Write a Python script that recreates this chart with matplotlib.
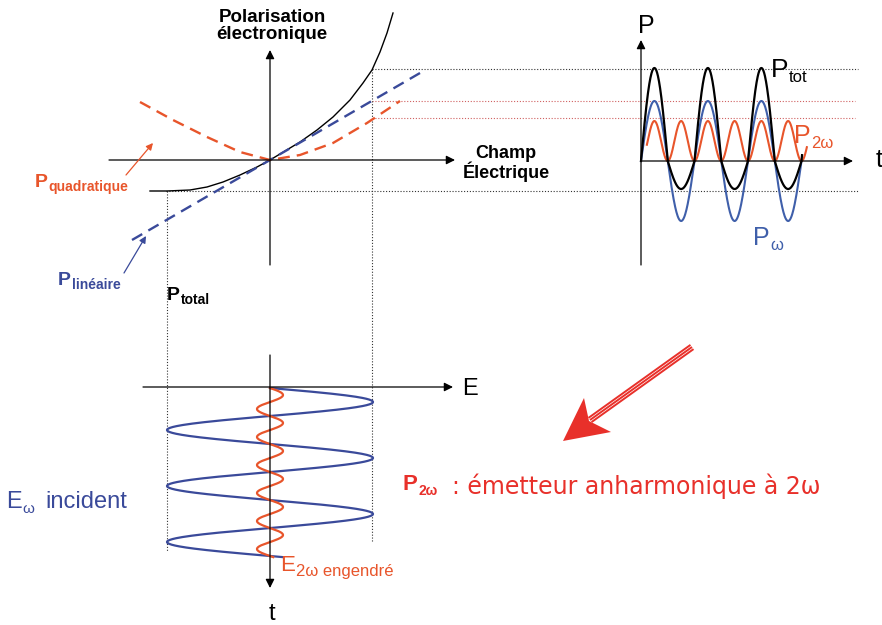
import numpy as np
import matplotlib.pyplot as plt
import matplotlib.transforms as mtransforms
from matplotlib.patches import Polygon

plt.rcParams['font.family'] = ['Liberation Sans', 'DejaVu Sans']

# left diagram: polarisation P vs field E
e_total = [-1.20, -1.03, -0.80, -0.63, -0.47, -0.30, -0.13, 0.00, 0.15, 0.30,
           0.47, 0.63, 0.80, 0.93, 1.02, 1.10, 1.17, 1.23]
p_total = [-0.31, -0.31, -0.30, -0.27, -0.22, -0.15, -0.07, 0.00, 0.09, 0.18,
           0.30, 0.43, 0.60, 0.77, 0.90, 1.08, 1.27, 1.47]
e_quad = [-1.30, -0.97, -0.63, -0.30, 0.00, 0.30, 0.63, 0.97, 1.30]
p_quad = [0.58, 0.40, 0.23, 0.08, 0.00, 0.05, 0.17, 0.37, 0.59]
e_lin = [-1.38, 1.50]
p_lin = [-0.80, 0.87]

# field swing and P levels it reaches (dotted guides)
e_swing = [-1.03, 1.02]
lev_black = [0.91, -0.31]
lev_red = [0.59, 0.42]

# right diagram: P(t), t in periods
amp_w = 0.60
amp_2w = 0.40
amp_tot = [0.93, 0.28]   # height of the upper lobes, depth of the lower lobes
t_w = [0.0, 3.0]
t_2w = [0.11, 3.10]
t_tot = [0.0, 3.01]

# bottom diagram: incident / generated field, t in periods
amp_ew = 1.03
amp_e2w = 0.13
t_field = [0.0, 3.02]

red = '#E8552B'
blue = '#3A4A9A'
blue2 = '#3F5FAA'
red_txt = '#E8302A'

fig = plt.figure(figsize=(8.82, 6.25), dpi=100)
ax = fig.add_axes([0, 0, 1, 1])
ax.set_xlim(0, 882)
ax.set_ylim(625, 0)
ax.axis('off')
px = ax.transData

tr_left = mtransforms.Affine2D().scale(100, -100).translate(270, 160) + px
tr_right = mtransforms.Affine2D().scale(53.5, -100).translate(641, 161) + px
tr_bot = mtransforms.Affine2D().scale(100, 56).translate(270, 388) + px


def axis_arrow(x0, y0, x1, y1):
    ax.annotate('', xy=(x1, y1), xytext=(x0, y0),
                arrowprops=dict(arrowstyle='-|>', color='k', lw=0.9,
                                mutation_scale=13, shrinkA=0, shrinkB=0))


def sub_label(x, y, main, sub, size, subsize, color, weight='normal', dy=-2):
    t = ax.text(x, y, main, fontsize=size, color=color, fontweight=weight,
                ha='left', va='baseline')
    ax.annotate(sub, xy=(1, 0), xycoords=t, xytext=(0.5, dy),
                textcoords='offset points', fontsize=subsize, color=color,
                fontweight=weight, ha='left', va='bottom')


# dotted guides
hx = mtransforms.blended_transform_factory(px, tr_left)
vx = mtransforms.blended_transform_factory(tr_left, px)
dot = (0, (1, 1.6))
ax.plot([372, 858], [lev_black[0]] * 2, transform=hx, color='#333333', lw=0.8, ls=dot)
ax.plot([166, 858], [lev_black[1]] * 2, transform=hx, color='#333333', lw=0.8, ls=dot)
for lv in lev_red:
    ax.plot([372, 855], [lv, lv], transform=hx, color='#D06060', lw=0.8, ls=dot)
ax.plot([e_swing[1]] * 2, [69, 541], transform=vx, color='#333333', lw=0.8, ls=dot)
ax.plot([e_swing[0]] * 2, [191, 551], transform=vx, color='#333333', lw=0.8, ls=dot)

# left diagram
axis_arrow(109, 160, 455, 160)
axis_arrow(270, 265, 270, 50)
ax.plot(e_total, p_total, transform=tr_left, color='k', lw=1.0)
ax.plot(e_lin, p_lin, transform=tr_left, color=blue, lw=1.7, ls=(0, (5, 3)))
ax.plot(e_quad, p_quad, transform=tr_left, color=red, lw=1.7, ls=(0, (5, 3)))

ax.text(272, 9, 'Polarisation\nélectronique', fontsize=13.5, fontweight='bold',
        ha='center', va='top', multialignment='center', linespacing=1.02)
ax.text(506, 145, 'Champ\nÉlectrique', fontsize=13, fontweight='bold',
        ha='center', va='top', multialignment='center', linespacing=1.0)

sub_label(35, 187, 'P', 'quadratique', 14, 10, red, 'bold')
sub_label(58, 285, 'P', 'linéaire', 14, 10, blue, 'bold')
sub_label(167, 300, 'P', 'total', 14, 10, 'k', 'bold')
ax.annotate('', xy=(153, 143), xytext=(126, 175),
            arrowprops=dict(arrowstyle='-|>', color=red, lw=0.9,
                            mutation_scale=10, shrinkA=0, shrinkB=0))
ax.annotate('', xy=(146, 236), xytext=(124, 273),
            arrowprops=dict(arrowstyle='-|>', color=blue, lw=0.9,
                            mutation_scale=10, shrinkA=0, shrinkB=0))

# right diagram
axis_arrow(641, 265, 641, 40)
axis_arrow(641, 161, 853, 161)
tt = np.linspace(t_w[0], t_w[1], 400)
ax.plot(tt, amp_w * np.sin(2 * np.pi * tt), transform=tr_right, color=blue2, lw=1.5)
tt = np.linspace(t_2w[0], t_2w[1], 400)
ax.plot(tt, amp_2w * (1 - np.cos(4 * np.pi * tt)) / 2, transform=tr_right, color=red, lw=1.5)
tt = np.linspace(t_tot[0], t_tot[1], 600)
s = np.sin(2 * np.pi * tt)
ax.plot(tt, np.where(s > 0, amp_tot[0] * s, amp_tot[1] * s),
        transform=tr_right, color='k', lw=1.6)

ax.text(638, 33, 'P', fontsize=18, ha='left', va='baseline')
ax.text(876, 167, 't', fontsize=18, ha='left', va='baseline')
sub_label(771, 77, 'P', 'tot', 19, 12, 'k')
sub_label(794, 143, 'P', '2ω', 18, 12, red)
sub_label(753, 245, 'P', 'ω', 18, 12, blue2)

# bottom diagram
axis_arrow(143, 387, 453, 387)
axis_arrow(270, 355, 270, 588)
tt = np.linspace(t_field[0], t_field[1], 600)
ax.plot(amp_ew * np.sin(2 * np.pi * tt), tt, transform=tr_bot, color=blue, lw=1.6)
ax.plot(amp_e2w * np.sin(4 * np.pi * tt), tt, transform=tr_bot, color=red, lw=1.6)

ax.text(462, 395, 'E', fontsize=17, ha='left', va='baseline')
ax.text(272, 620, 't', fontsize=17, ha='center', va='baseline')
sub_label(6, 508, 'E', 'ω', 17, 11, blue)
ax.text(45, 508, 'incident', fontsize=17, color=blue, ha='left', va='baseline')
sub_label(280, 571, 'E', '2ω engendré', 16, 12, red)

# big arrow with striped shaft
d = np.array([563 - 692, 440 - 347], dtype=float)
d /= np.hypot(*d)
nrm = np.array([d[1], -d[0]])
for k in (-2.6, 0, 2.6):
    ax.plot([692 + k * nrm[0], 590 + k * nrm[0]], [347 + k * nrm[1], 420 + k * nrm[1]],
            color=red_txt, lw=1.4, solid_capstyle='butt')
ax.add_patch(Polygon([(563, 441), (584, 398), (589, 421), (611, 432)],
                     closed=True, color=red_txt, lw=0))

sub_label(403, 490, 'P', '2ω', 16, 10, red_txt, 'bold')
ax.text(452, 494, ': émetteur anharmonique à 2ω', fontsize=17, color=red_txt,
        family='DejaVu Sans', ha='left', va='baseline')

fig.savefig('out.png', dpi=100)
